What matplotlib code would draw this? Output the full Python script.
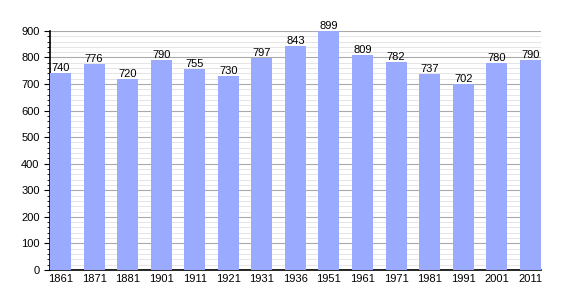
import matplotlib.pyplot as plt
import numpy as np

plt.rcParams['font.family'] = ['Liberation Sans', 'DejaVu Sans']

years = ['1861', '1871', '1881', '1901', '1911', '1921', '1931', '1936',
         '1951', '1961', '1971', '1981', '1991', '2001', '2011']
population = [740, 776, 720, 790, 755, 730, 797, 843, 899, 809, 782, 737, 702, 780, 790]

fig = plt.figure(figsize=(5.7, 3.0), dpi=100)
ax = fig.add_axes([0.0877, 0.1, 0.861, 0.797])

x = np.arange(len(years))
w = 0.625
ax.bar(x, population, width=w, color='#99aaff', zorder=3)

for xi, v in zip(x, population):
    ax.text(xi, v, str(v), ha='center', va='bottom', fontsize=8, zorder=4)

ax.set_xlim(-w / 2, len(years) - 1 + w / 2)
ax.set_ylim(0, 900)
ax.set_xticks(x)
ax.set_xticklabels(years, fontsize=8)
ax.set_yticks(np.arange(0, 901, 100))
ax.set_yticks(np.arange(0, 901, 20), minor=True)
ax.tick_params(axis='y', labelsize=8, length=4, direction='out')
ax.tick_params(axis='y', which='minor', length=2)
ax.tick_params(axis='x', length=0, pad=3)

ax.grid(axis='y', which='major', color='#aaaaaa', linewidth=0.8, zorder=1)
ax.grid(axis='y', which='minor', color='#e0e0e0', linewidth=0.6, zorder=1)

for s in ['top', 'right']:
    ax.spines[s].set_visible(False)
ax.spines['left'].set_linewidth(1.2)
ax.spines['bottom'].set_linewidth(1.2)

fig.savefig('out.png', dpi=100)
